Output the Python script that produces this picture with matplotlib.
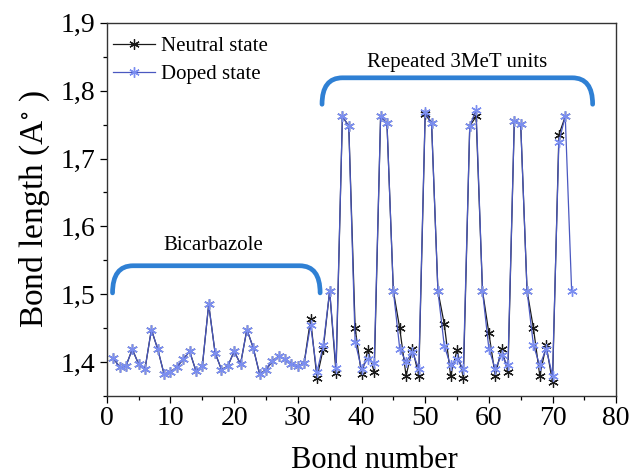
import matplotlib
matplotlib.use('Agg')
import matplotlib.pyplot as plt
from matplotlib.path import Path
from matplotlib.patches import PathPatch
from matplotlib.ticker import FuncFormatter, MultipleLocator

plt.rcParams['font.family'] = ['Liberation Serif', 'DejaVu Serif']
plt.rcParams['mathtext.fontset'] = 'stix'

# bond lengths (Angstrom), bicarbazole part then the 3MeT units
bicarb = [1.406, 1.393, 1.394, 1.419, 1.397, 1.390, 1.448, 1.419, 1.382, 1.385,
          1.393, 1.404, 1.416, 1.387, 1.394, 1.485, 1.414, 1.389, 1.394, 1.416,
          1.397, 1.448, 1.421, 1.382, 1.389, 1.401, 1.409, 1.404, 1.397, 1.394,
          1.399]
neutro_resto = [1.463, 1.377, 1.420, 1.505, 1.384, 1.762, 1.748, 1.450, 1.382, 1.418,
                1.385, 1.762, 1.752, 1.505, 1.450, 1.380, 1.420, 1.380, 1.765, 1.753,
                1.505, 1.456, 1.380, 1.418, 1.377, 1.748, 1.762, 1.505, 1.443, 1.380,
                1.420, 1.385, 1.756, 1.751, 1.505, 1.450, 1.380, 1.425, 1.370, 1.735,
                1.762]
dopado_resto = [1.455, 1.385, 1.425, 1.505, 1.392, 1.762, 1.748, 1.430, 1.390, 1.405,
                1.398, 1.762, 1.752, 1.505, 1.420, 1.400, 1.415, 1.390, 1.768, 1.753,
                1.505, 1.424, 1.395, 1.405, 1.390, 1.748, 1.772, 1.505, 1.420, 1.390,
                1.410, 1.395, 1.756, 1.751, 1.505, 1.425, 1.395, 1.420, 1.380, 1.725,
                1.762, 1.505]

neutro = bicarb + neutro_resto
dopado = bicarb + dopado_resto
ligacao_n = list(range(1, len(neutro) + 1))
ligacao_d = list(range(1, len(dopado) + 1))


def chave(ax, x0, x1, ybase, ytop, rx):
    verts = [(x0, ybase), (x0, ytop), (x0 + rx, ytop), (x1 - rx, ytop), (x1, ytop), (x1, ybase)]
    codes = [Path.MOVETO, Path.CURVE3, Path.CURVE3, Path.LINETO, Path.CURVE3, Path.CURVE3]
    p = PathPatch(Path(verts, codes), facecolor='none', edgecolor='#2f80d4',
                  lw=3.4, capstyle='round', joinstyle='round')
    ax.add_patch(p)


fig = plt.figure(figsize=(6.32, 4.76), dpi=100)
ax = fig.add_axes([0.169, 0.168, 0.806, 0.784])

ax.plot(ligacao_n, neutro, color='#1a1a1a', lw=0.9, marker=(6, 2, 0), ms=7.5,
        mew=0.9, label='Neutral state')
ax.plot(ligacao_d, dopado, color='#4a58c0', lw=0.9, marker=(6, 2, 0), ms=7.5,
        mew=1.0, mec='#7b8ef0', label='Doped state')

chave(ax, 0.9, 33.5, 1.502, 1.542, 3.2)
chave(ax, 33.8, 76.3, 1.780, 1.819, 3.2)
ax.text(16.7, 1.572, 'Bicarbazole', ha='center', va='center', fontsize=15)
ax.text(55.0, 1.841, 'Repeated 3MeT units', ha='center', va='center', fontsize=15)

ax.set_xlim(0, 80)
ax.set_ylim(1.35, 1.9)
ax.xaxis.set_major_locator(MultipleLocator(10))
ax.xaxis.set_minor_locator(MultipleLocator(5))
ax.yaxis.set_major_locator(MultipleLocator(0.1))
ax.yaxis.set_minor_locator(MultipleLocator(0.05))
ax.yaxis.set_major_formatter(FuncFormatter(lambda v, p: ('%.1f' % v).replace('.', ',')))
ax.tick_params(which='both', direction='out', top=False, right=False, labelsize=20)
ax.tick_params(which='major', length=5, width=0.9)
ax.tick_params(which='minor', length=3, width=0.9)
ax.tick_params(axis='x', pad=2)
for s in ax.spines.values():
    s.set_linewidth(1.0)
    s.set_color('#333333')

ax.set_xlabel('Bond number', fontsize=22)
ax.set_ylabel(r'Bond length (A$^{\circ}$ )', fontsize=24)
ax.yaxis.set_label_coords(-0.108, 0.50)
ax.xaxis.set_label_coords(0.525, -0.135)

ax.legend(loc='upper left', bbox_to_anchor=(-0.014, 1.0), frameon=False, fontsize=15,
          handlelength=2.0, handletextpad=0.3, borderaxespad=0.1, labelspacing=0.4,
          borderpad=0.55)

plt.savefig('out.png', dpi=100)
